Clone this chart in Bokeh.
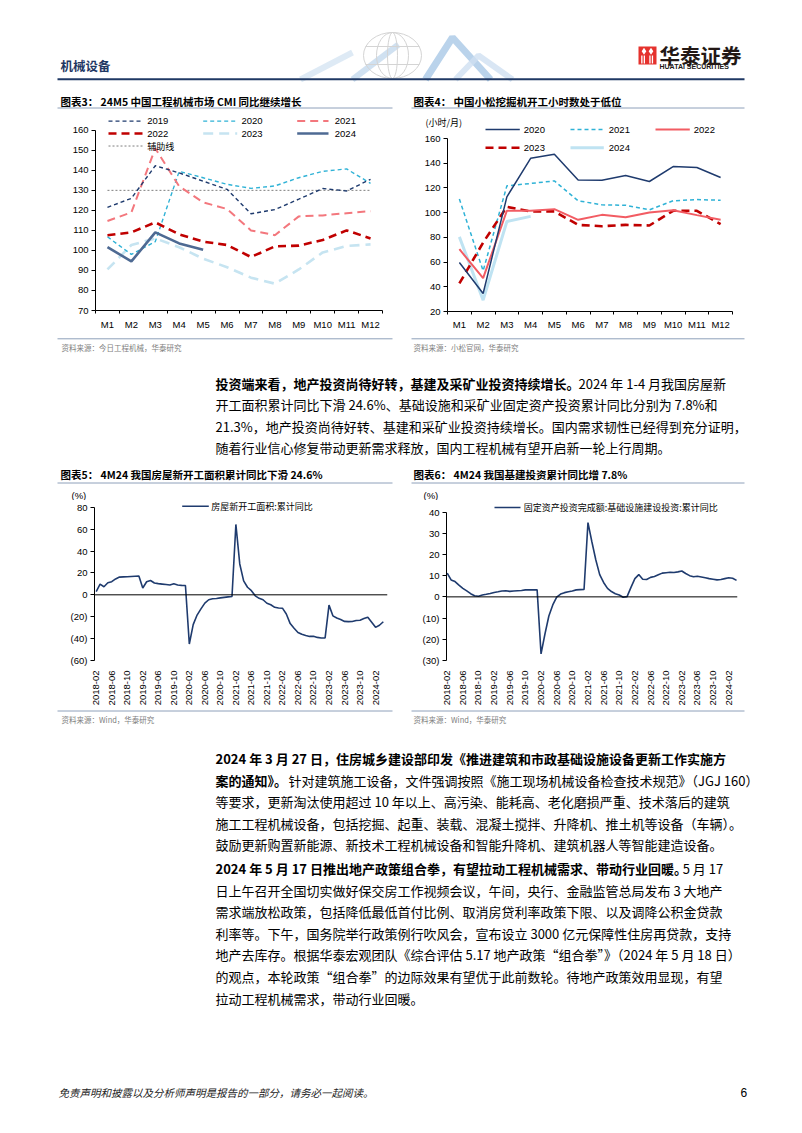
import math
import pandas as pd
from bokeh.plotting import figure
from bokeh.models import Range1d, FixedTicker, Span, Label
from bokeh.layouts import column, row
from bokeh.embed import file_html
from bokeh.resources import INLINE
from bokeh.core.properties import value

CJK = "Noto Sans CJK SC"
LAT = "Liberation Sans"

# ---------------- data ----------------
month_labels = ["M1", "M2", "M3", "M4", "M5", "M6", "M7", "M8", "M9", "M10", "M11", "M12"]

cmi_2019 = [121.5, 126.0, 142.3, 138.7, 134.6, 130.5, 118.3, 120.4, 125.6, 130.9, 129.7, 135.5]
cmi_2020 = [106.8, 98.0, 104.4, 139.5, 136.3, 133.0, 131.0, 132.2, 136.3, 139.5, 140.7, 133.5]
cmi_2021 = [114.7, 119.0, 151.0, 132.0, 124.0, 120.7, 110.0, 107.6, 117.0, 117.5, 118.6, 119.6]
cmi_2022 = [107.6, 109.0, 114.0, 108.0, 104.4, 102.7, 96.7, 102.0, 102.4, 105.2, 110.0, 106.0]
cmi_2023 = [90.5, 102.7, 106.0, 101.6, 95.9, 91.6, 86.4, 83.4, 90.5, 99.0, 102.2, 103.0]
cmi_2024 = [101.7, 94.5, 109.0, 103.5, 100.3]
cmi_aux = [130, 130, 130, 130, 130, 130, 130, 130, 130, 130, 130, 130]

kom_2020 = [59.6, 34.6, 112.8, 144.0, 147.3, 126.5, 126.3, 130.0, 125.2, 137.3, 136.5, 128.4]
kom_2021 = [111.0, 52.9, 121.7, 123.6, 125.7, 109.6, 106.3, 106.0, 102.3, 109.6, 110.6, 110.0]
kom_2022 = [70.4, 47.0, 101.5, 101.5, 102.8, 94.2, 98.2, 96.3, 100.1, 102.0, 98.0, 94.2]
kom_2023 = [42.7, 75.8, 104.7, 101.0, 101.0, 90.1, 89.0, 90.1, 89.6, 101.5, 101.5, 90.7]
kom_2024 = [80.4, 29.2, 92.8, 97.0]

date_labels = pd.date_range("2018-02-01", "2024-04-01", freq="MS").strftime("%Y-%m").tolist()

housing_starts_yoy = [
    3.0, 9.7, 7.4, 11.0, 12.0, 14.5, 16.2, 16.4, 16.5, 16.8, 17.0,
    17.2, 6.2, 11.9, 13.1, 10.8, 10.2, 9.8, 9.4, 9.0, 10.1, 9.0, 8.6,
    8.5, -44.9, -27.2, -18.5, -12.8, -7.6, -4.5, -3.6, -3.4, -2.8, -2.3, -1.9,
    -1.5, 64.3, 28.2, 12.8, 6.9, 3.8, -0.9, -3.2, -4.5, -7.7, -9.1, -11.4,
    -12.0, -12.2, -17.5, -26.3, -30.6, -34.4, -36.1, -37.2, -38.0, -37.8, -38.9, -39.4,
    -39.4, -9.4, -19.2, -21.2, -22.6, -24.3, -24.5, -24.4, -23.4, -23.2, -21.7, -20.4,
    -25.0, -29.7, -27.8, -24.6,
]

infra_invest_yoy = [
    11.2, 8.0, 7.2, 5.5, 4.0, 2.8, 1.5, 0.5, 0.3, 0.9, 1.2,
    1.6, 2.1, 2.4, 2.8, 2.9, 2.6, 2.8, 2.9, 3.0, 3.3, 3.3, 3.3,
    3.3, -26.9, -17.5, -9.0, -3.8, -0.1, 1.3, 2.0, 2.4, 2.8, 3.3, 3.4,
    3.5, 35.0, 26.0, 17.5, 10.5, 6.8, 4.0, 2.5, 1.5, 0.9, -0.2, 0.1,
    4.5, 8.6, 10.5, 8.3, 8.2, 9.2, 9.6, 10.4, 11.2, 11.4, 11.6, 11.5,
    11.8, 12.2, 11.0, 10.0, 9.5, 9.7, 9.4, 9.0, 8.6, 8.3, 8.0, 8.2,
    8.6, 9.0, 8.8, 7.8,
]

W = 786


# ---------------- helpers ----------------
def page_fig(y0, h, x0=8, w=W):
    p = figure(width=w, height=h, x_range=Range1d(x0, x0 + w), y_range=Range1d(y0 + h, y0),
               output_backend="svg", toolbar_location=None, min_border=0,
               x_axis_location=None, y_axis_location=None)
    p.title.visible = False
    p.grid.grid_line_color = None
    p.outline_line_color = None
    p.frame_align = False
    return p


def txt(p, x, y, s, size, color="#000000", bold=False, italic=False, font=CJK, align="left"):
    style = "bold" if bold else ("italic" if italic else "normal")
    p.text(x=[x], y=[y], text=[s], text_font=value(font), text_font_size=f"{size}px",
           text_font_style=style, text_color=color, text_align=align, text_baseline="middle")


def hline(p, x0, x1, y, color, w=1):
    p.line([x0, x1], [y, y], line_color=color, line_width=w)


def tw(s, size):
    w = 0.0
    for ch in s:
        if ord(ch) >= 0x2E80 or ch in "，。、《》（）“”：":
            w += 1.0
        elif ch.isdigit():
            w += 0.56
        elif ch == " ":
            w += 0.25
        elif ch == "%":
            w += 0.9
        elif ch in ".-":
            w += 0.33
        else:
            w += 0.62
    return w * size


def mapper(fx0, fy0, fw, fh, xr, yr):
    fx = lambda px: xr[0] + (px - fx0) / fw * (xr[1] - xr[0])
    fy = lambda py: yr[0] + (fy0 + fh - py) / fh * (yr[1] - yr[0])
    return fx, fy


def chart_fig(xr, yr, ml, mr, mt, mb, h):
    p = figure(width=393, height=h, x_range=Range1d(*xr), y_range=Range1d(*yr),
               min_border_left=ml, min_border_right=mr, min_border_top=mt, min_border_bottom=mb,
               output_backend="svg", toolbar_location=None)
    p.title.visible = False
    p.grid.grid_line_color = None
    p.outline_line_color = None
    p.frame_align = False
    for ax in (p.xaxis, p.yaxis):
        ax.major_label_text_font = LAT
        ax.major_label_text_font_size = "9.5px"
        ax.major_label_text_color = "#000000"
        ax.axis_line_color = "#000000"
        ax.axis_line_width = 1
        ax.major_tick_in = 0
        ax.minor_tick_in = 0
        ax.major_tick_line_color = "#000000"
        ax.minor_tick_line_color = "#000000"
    p.yaxis.major_tick_out = 4
    p.yaxis.minor_tick_out = 0
    p.yaxis.major_label_standoff = 3
    return p


def gtext(p, x, y, s, size=9.5, font=LAT):
    p.text(x=[x], y=[y], text=[s], text_font=value(font), text_font_size=f"{size}px",
           text_color="#000000", text_baseline="middle", text_align="left")


def legend_label(p, x, y, s, size=9.5, font=LAT):
    p.add_layout(Label(x=x, y=y, text=s, text_font=font, text_font_size=f"{size}px",
                       text_color="#000000", text_baseline="middle", text_align="left"))


# ---------------- header ----------------
fa = page_fig(8, 104)
# watermark
fa.multi_line(xs=[[300, 352], [352, 398], [425, 452, 490], [455, 478, 512]],
              ys=[[79, 52], [79, 44], [79, 37, 79], [79, 55, 79]],
              line_color=["#d6e5f3", "#c4d9ee", "#a9c8e6", "#cfe0f1"],
              line_width=[6, 6, 7, 6], line_alpha=0.8)
fa.ellipse(x=[392, 392, 392], y=[55, 55, 55], width=[58, 32, 10], height=[46, 46, 46],
           fill_color=None, line_color="#d4d4d4", line_width=1)
fa.multi_line(xs=[[365, 419], [365, 419]], ys=[[46, 46], [64, 64]], line_color="#d4d4d4", line_width=1)
txt(fa, 60, 65, "机械设备", 12.5, color="#1F3864", bold=True)
# logo
fa.quad(left=[638], right=[656], top=[46], bottom=[64], fill_color="#E5322D", line_color=None)
fa.scatter(x=[643.5, 650.5], y=[50.8, 50.8], marker="diamond", size=7, fill_color="white", line_color=None)
fa.quad(left=[640.7, 643.2, 648.8, 651.3], right=[642, 644.5, 650.1, 652.6],
        top=[55, 55, 55, 55], bottom=[63, 63, 63, 63], fill_color="white", line_color=None)
txt(fa, 659, 54, "华泰证券", 20.5, color="#231815", bold=True)
txt(fa, 659, 66, "HUATAI SECURITIES", 7, color="#231815", bold=True, font=LAT)
hline(fa, 57, 744, 78.8, "#1F3864", 2)
# chart titles
txt(fa, 60, 101, "图表3：  24M5 中国工程机械市场 CMI 同比继续增长", 10.5, bold=True)
txt(fa, 413, 101, "图表4：  中国小松挖掘机开工小时数处于低位", 10.5, bold=True)
hline(fa, 57, 392, 107.5, "#8EA0BA", 1)
hline(fa, 411, 744, 107.5, "#8EA0BA", 1)

# ---------------- chart 3 ----------------
x12 = list(range(1, 13))
c3_xr = (0.5, 12.5)
c3_yr = (70, 70 + 198 / (183 / 90))
p3 = chart_fig(c3_xr, c3_yr, 87, 19, 3, 19, 220)
p3.yaxis.ticker = FixedTicker(ticks=list(range(70, 161, 10)))
p3.yaxis.bounds = (70, 160)
p3.xaxis.ticker = FixedTicker(ticks=x12, minor_ticks=[i + 0.5 for i in range(0, 13)])
p3.xaxis.major_label_overrides = {i: m for i, m in zip(x12, month_labels)}
p3.xaxis.major_tick_out = 0
p3.xaxis.minor_tick_out = 3
p3.xaxis.major_label_standoff = 5

s19 = dict(line_color="#1F3B6E", line_width=1.4, line_dash="4 3")
s20 = dict(line_color="#2FB2D6", line_width=1.4, line_dash="4 3")
s21 = dict(line_color="#F3777D", line_width=2.0, line_dash="8 5")
s22 = dict(line_color="#C00000", line_width=2.6, line_dash="8 5")
s23 = dict(line_color="#C6E4F1", line_width=2.6, line_dash="10 6")
s24 = dict(line_color="#4E6A93", line_width=2.6)
saux = dict(line_color="#7F7F7F", line_width=1.0, line_dash="2 2")

p3.line(x12, cmi_aux, **saux)
p3.line(x12, cmi_2023, **s23)
p3.line(x12, cmi_2020, **s20)
p3.line(x12, cmi_2021, **s21)
p3.line(x12, cmi_2019, **s19)
p3.line(x12, cmi_2022, **s22)
p3.line(x12[:len(cmi_2024)], cmi_2024, **s24)

fx3, fy3 = mapper(95, 115, 287, 198, c3_xr, c3_yr)
leg3 = [("2019", s19, 0, 0), ("2020", s20, 1, 0), ("2021", s21, 2, 0),
        ("2022", s22, 0, 1), ("2023", s23, 1, 1), ("2024", s24, 2, 1)]
cols3 = [(108, 142, 146.7), (202.7, 236.7, 241), (296.7, 328, 334.3)]
rows3 = [120.7, 133.3, 146]
for lab, st, c, r in leg3:
    a, b, lx = cols3[c]
    yy = fy3(rows3[r])
    p3.line([fx3(a), fx3(b)], [yy, yy], **st)
    gtext(p3, fx3(lx), yy, lab)
p3.line([fx3(108), fx3(142)], [fy3(146), fy3(146)], **saux)
gtext(p3, fx3(146.7), fy3(146), "辅助线", size=9, font=CJK)

# ---------------- chart 4 (top strip + plot) ----------------
k20 = dict(line_color="#1F3B6E", line_width=1.5)
k21 = dict(line_color="#2FB2D6", line_width=1.5, line_dash="4 3")
k22 = dict(line_color="#F25C63", line_width=2.0)
k23 = dict(line_color="#C00000", line_width=2.6, line_dash="8 5")
k24 = dict(line_color="#BFE3F2", line_width=3.0)

f4t = page_fig(112, 22, x0=401, w=393)
txt(f4t, 425, 122, "(小时/月)", 9)
cols4 = [(485, 519.3, 523.3), (570, 603.3, 608.3), (655, 689.3, 693.3)]
for lab, st, c in [("2020", k20, 0), ("2021", k21, 1), ("2022", k22, 2)]:
    a, b, lx = cols4[c]
    f4t.line([a, b], [129, 129], **st)
    txt(f4t, lx, 129, lab, 9.5, font=LAT)

c4_xr = (0.5, 12.5)
c4_yr = (20, 160)
p4 = chart_fig(c4_xr, c4_yr, 46, 62, 4, 21, 198)
p4.yaxis.ticker = FixedTicker(ticks=list(range(20, 161, 20)))
p4.xaxis.ticker = FixedTicker(ticks=x12, minor_ticks=[i + 0.5 for i in range(0, 13)])
p4.xaxis.major_label_overrides = {i: m for i, m in zip(x12, month_labels)}
p4.xaxis.major_tick_out = 0
p4.xaxis.minor_tick_out = 3
p4.xaxis.major_label_standoff = 4

p4.line(x12[:len(kom_2024)], kom_2024, **k24)
p4.line(x12, kom_2021, **k21)
p4.line(x12, kom_2023, **k23)
p4.line(x12, kom_2022, **k22)
p4.line(x12, kom_2020, **k20)

fx4, fy4 = mapper(447, 138, 285, 173, c4_xr, c4_yr)
for lab, st, c in [("2023", k23, 0), ("2024", k24, 1)]:
    a, b, lx = cols4[c]
    yy = fy4(147.3)
    p4.line([fx4(a), fx4(b)], [yy, yy], **st)
    gtext(p4, fx4(lx), yy, lab)

# ---------------- middle text ----------------
fc = page_fig(332, 168)
hline(fc, 57, 392, 338.3, "#8EA0BA", 1)
hline(fc, 411, 744, 338.3, "#8EA0BA", 1)
txt(fc, 61, 347, "资料来源：今日工程机械，华泰研究", 7.5, color="#808080")
txt(fc, 413, 347, "资料来源：小松官网，华泰研究", 7.5, color="#808080")

PX = 215
FS = 13
p1_bold = "投资端来看，地产投资尚待好转，基建及采矿业投资持续增长。"
p1_lines = [
    "2024 年 1-4 月我国房屋新",
    "开工面积累计同比下滑 24.6%、基础设施和采矿业固定资产投资累计同比分别为 7.8%和",
    "21.3%，地产投资尚待好转、基建和采矿业投资持续增长。国内需求韧性已经得到充分证明，",
    "随着行业信心修复带动更新需求释放，国内工程机械有望开启新一轮上行周期。",
]
p1_y = [383, 404.3, 425.6, 446.9]
txt(fc, PX, p1_y[0], p1_bold, FS, bold=True)
txt(fc, PX + tw(p1_bold, FS) - 1, p1_y[0], p1_lines[0], FS)
for s, yy in zip(p1_lines[1:], p1_y[1:]):
    txt(fc, PX, yy, s, FS)

txt(fc, 60, 474, "图表5：  4M24 我国房屋新开工面积累计同比下滑 24.6%", 10.5, bold=True)
txt(fc, 413, 474, "图表6：  4M24 我国基建投资累计同比增 7.8%", 10.5, bold=True)
hline(fc, 57, 392, 482.5, "#8EA0BA", 1)
hline(fc, 411, 744, 482.5, "#8EA0BA", 1)
txt(fc, 71, 494.5, "(%)", 9.5, font=LAT)
txt(fc, 423, 494.5, "(%)", 9.5, font=LAT)

# ---------------- chart 5 ----------------
mi = list(range(len(date_labels)))
tick_idx = list(range(0, 73, 4))
c5_xr = (-0.438, -0.438 + 293 / 3.88)
c5_yr = (-60, 80 + 6 / (160 / 140))
p5 = chart_fig(c5_xr, c5_yr, 86, 14, 1, 41, 208)
p5.yaxis.ticker = FixedTicker(ticks=list(range(-60, 81, 20)))
p5.yaxis.bounds = (-60, 80)
p5.yaxis.major_label_overrides = {-20: "(20)", -40: "(40)", -60: "(60)"}
p5.xaxis.ticker = FixedTicker(ticks=tick_idx)
p5.xaxis.major_label_overrides = {i: date_labels[i] for i in tick_idx}
p5.xaxis.major_label_orientation = math.pi / 2
p5.xaxis.axis_line_color = None
p5.xaxis.major_tick_line_color = None
p5.xaxis.minor_tick_line_color = None
p5.xaxis.major_label_standoff = 4
p5.add_layout(Span(location=0, dimension="width", line_color="#000000", line_width=1))
p5.line(mi, housing_starts_yoy, line_color="#1F3B6E", line_width=1.6)
fx5, fy5 = mapper(94, 501, 293, 166, c5_xr, c5_yr)
p5.line([fx5(181.7), fx5(208.3)], [fy5(506), fy5(506)], line_color="#1F3B6E", line_width=1.6)
legend_label(p5, fx5(210.7), fy5(506), "房屋新开工面积:累计同比", size=9, font=CJK)

# ---------------- chart 6 ----------------
c6_xr = (-0.179, -0.179 + 291 / 3.91)
c6_yr = (-30, 40 + 11 / (155 / 70))
p6 = chart_fig(c6_xr, c6_yr, 45, 57, 1, 41, 208)
p6.yaxis.ticker = FixedTicker(ticks=list(range(-30, 41, 10)))
p6.yaxis.bounds = (-30, 40)
p6.yaxis.major_label_overrides = {-10: "(10)", -20: "(20)", -30: "(30)"}
p6.xaxis.ticker = FixedTicker(ticks=tick_idx)
p6.xaxis.major_label_overrides = {i: date_labels[i] for i in tick_idx}
p6.xaxis.major_label_orientation = math.pi / 2
p6.xaxis.axis_line_color = None
p6.xaxis.major_tick_line_color = None
p6.xaxis.minor_tick_line_color = None
p6.xaxis.major_label_standoff = 4
p6.add_layout(Span(location=0, dimension="width", line_color="#000000", line_width=1))
p6.line(mi, infra_invest_yoy, line_color="#1F3B6E", line_width=1.6)
fx6, fy6 = mapper(446, 501, 291, 166, c6_xr, c6_yr)
p6.line([fx6(494), fx6(520)], [fy6(507.3), fy6(507.3)], line_color="#1F3B6E", line_width=1.6)
legend_label(p6, fx6(523.3), fy6(507.3), "固定资产投资完成额:基础设施建设投资:累计同比", size=9, font=CJK)

# ---------------- bottom text ----------------
fe = page_fig(708, 417)
hline(fe, 57, 392, 710.5, "#8EA0BA", 1)
hline(fe, 411, 744, 710.5, "#8EA0BA", 1)
txt(fe, 61, 718.5, "资料来源：Wind，华泰研究", 7.5, color="#808080")
txt(fe, 413, 718.5, "资料来源：Wind，华泰研究", 7.5, color="#808080")

p2_y = [758 + 21.6 * i for i in range(5)]
txt(fe, PX, p2_y[0], "2024 年 3 月 27 日，住房城乡建设部印发《推进建筑和市政基础设施设备更新工作实施方", FS, bold=True)
b2 = "案的通知》。"
txt(fe, PX, p2_y[1], b2, FS, bold=True)
txt(fe, PX + tw(b2, FS) - 5, p2_y[1], "针对建筑施工设备，文件强调按照《施工现场机械设备检查技术规范》（JGJ 160）", FS)
p2_rest = [
    "等要求，更新淘汰使用超过 10 年以上、高污染、能耗高、老化磨损严重、技术落后的建筑",
    "施工工程机械设备，包括挖掘、起重、装载、混凝土搅拌、升降机、推土机等设备（车辆）。",
    "鼓励更新购置新能源、新技术工程机械设备和智能升降机、建筑机器人等智能建造设备。",
]
for s, yy in zip(p2_rest, p2_y[2:]):
    txt(fe, PX, yy, s, FS)

p3_y = [868 + 21.6 * i for i in range(7)]
b3 = "2024 年 5 月 17 日推出地产政策组合拳，有望拉动工程机械需求、带动行业回暖。"
txt(fe, PX, p3_y[0], b3, FS, bold=True)
txt(fe, PX + tw(b3, FS) - 3, p3_y[0], "5 月 17", FS)
p3_rest = [
    "日上午召开全国切实做好保交房工作视频会议，午间，央行、金融监管总局发布 3 大地产",
    "需求端放松政策，包括降低最低首付比例、取消房贷利率政策下限、以及调降公积金贷款",
    "利率等。下午，国务院举行政策例行吹风会，宣布设立 3000 亿元保障性住房再贷款，支持",
    "地产去库存。根据华泰宏观团队《综合评估 5.17 地产政策“组合拳”》（2024 年 5 月 18 日）",
    "的观点，本轮政策“组合拳”的边际效果有望优于此前数轮。待地产政策效用显现，有望",
    "拉动工程机械需求，带动行业回暖。",
]
for s, yy in zip(p3_rest, p3_y[1:]):
    txt(fe, PX, yy, s, FS)

txt(fe, 58, 1092, "免责声明和披露以及分析师声明是报告的一部分，请务必一起阅读。", 10.5, color="#222222", italic=True)
txt(fe, 740, 1092, "6", 12, font=LAT)

layout = column(fa, row(p3, column(f4t, p4)), fc, row(p5, p6), fe, margin=(8, 0, 0, 8))
open("out.html", "w").write(file_html(layout, INLINE, "page"))
